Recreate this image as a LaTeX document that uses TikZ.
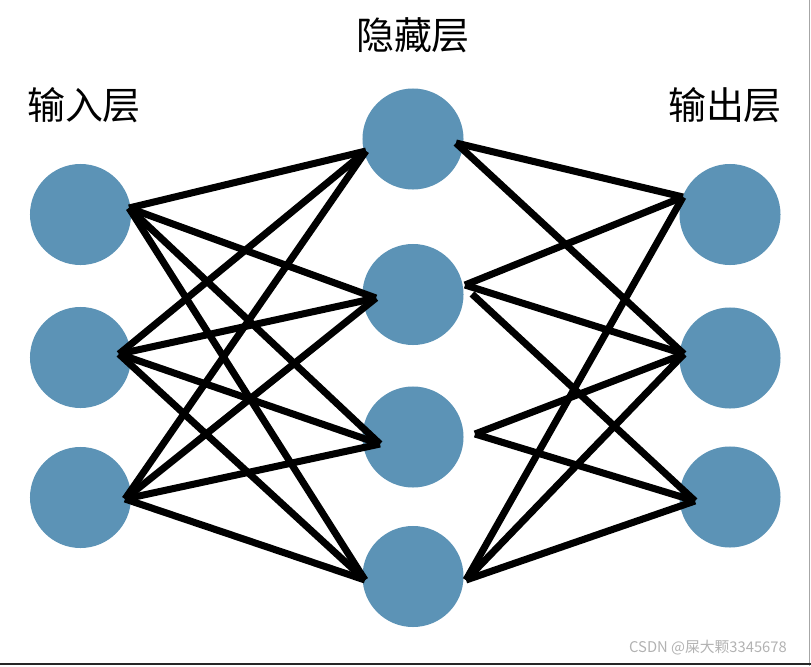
\documentclass[tikz,border=0pt]{standalone}
\usepackage{fontspec}
\newfontfamily\cjk{Noto Sans CJK SC}
\definecolor{neuronblue}{RGB}{92,147,182}

\begin{document}
\begin{tikzpicture}[x=0.025cm, y=-0.025cm,
        neuron/.style={circle, fill=neuronblue, minimum size=2.525cm, inner sep=0pt},
        title/.style={font=\cjk\fontsize{27}{32}\selectfont},
        link/.style={line width=5pt, black}
    ]
    \useasboundingbox (0,0) rectangle (811,666);

    % Frame edges
    \draw[gray!70, line width=1pt] (809.5,0) -- (809.5,666);
    \draw[black!85, line width=2pt] (0,664) -- (811,664);

    % Titles
    \node[title] (tin) at (84,105) {输入层};
    \node[title] (thid) at (413,35) {隐藏层};
    \node[title] (tout) at (725,105) {输出层};

    % Input layer
    \node[neuron] (in1) at (80.5,214.5) {};
    \node[neuron] (in2) at (80.5,357.5) {};
    \node[neuron] (in3) at (80.5,497.5) {};

    % Hidden layer
    \node[neuron] (h1) at (413,139) {};
    \node[neuron] (h2) at (413,294.5) {};
    \node[neuron] (h3) at (413,437) {};
    \node[neuron] (h4) at (413,576.5) {};

    % Output layer
    \node[neuron] (out1) at (730,214.5) {};
    \node[neuron] (out2) at (730,358) {};
    \node[neuron] (out3) at (730,497) {};

    % Line ends
    \coordinate (in1r) at (129,208);
    \coordinate (in2r) at (119,354);
    \coordinate (in3r) at (125,499);
    \coordinate (h1l) at (366,151);
    \coordinate (h2l) at (376,298);
    \coordinate (h3l) at (380,444);
    \coordinate (h4l) at (365,580);
    \coordinate (h1r) at (456,143);
    \coordinate (h2r) at (465,285);
    \coordinate (h2rb) at (472,294);
    \coordinate (h3r) at (475,434);
    \coordinate (h4r) at (466,580);
    \coordinate (out1l) at (683,197);
    \coordinate (out2l) at (684,354);
    \coordinate (out3l) at (695,501);

    % Input -> hidden
    \draw[link] (in1r) -- (h1l);
    \draw[link] (in1r) -- (h2l);
    \draw[link] (in1r) -- (h3l);
    \draw[link] (in1r) -- (h4l);
    \draw[link] (in2r) -- (h1l);
    \draw[link] (in2r) -- (h2l);
    \draw[link] (in2r) -- (h3l);
    \draw[link] (in2r) -- (h4l);
    \draw[link] (in3r) -- (h1l);
    \draw[link] (in3r) -- (h2l);
    \draw[link] (in3r) -- (h3l);
    \draw[link] (in3r) -- (h4l);

    % Hidden -> output
    \draw[link] (h1r) -- (out1l);
    \draw[link] (h1r) -- (out2l);
    \draw[link] (h2r) -- (out1l);
    \draw[link] (h2r) -- (out2l);
    \draw[link] (h2rb) -- (out3l);
    \draw[link] (h3r) -- (out2l);
    \draw[link] (h3r) -- (out3l);
    \draw[link] (h4r) -- (out1l);
    \draw[link] (h4r) -- (out2l);
    \draw[link] (h4r) -- (out3l);

    % Watermark
    \node[font=\cjk\fontsize{10.5}{12}\selectfont, text=gray!60] (mark) at (708,648) {CSDN @屎大颗3345678};

\end{tikzpicture}
\end{document}
